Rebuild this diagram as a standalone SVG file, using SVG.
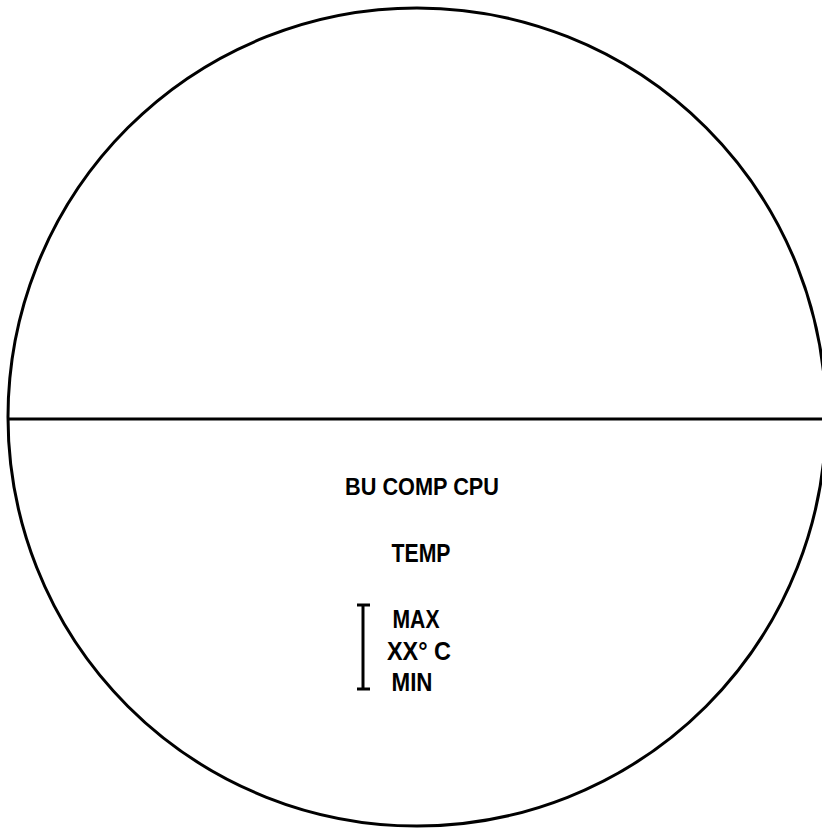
<svg xmlns="http://www.w3.org/2000/svg" width="822" height="829" viewBox="0 0 822 829">
<style>
.ln{fill:none;stroke:#000;stroke-width:3}
.t{font-family:"Liberation Sans",Arial,sans-serif;font-weight:bold;fill:#000;text-anchor:middle}
</style>
<rect width="822" height="829" fill="#fff"/>
<g id="dial">
<circle class="ln" cx="417" cy="417" r="409"/>
<line class="ln" x1="9" y1="419" x2="822" y2="419"/>
</g>
<g id="labels">
<text class="t" x="422" y="495" font-size="24" textLength="154" lengthAdjust="spacingAndGlyphs">BU COMP CPU</text>
<text class="t" x="421" y="562" font-size="26" textLength="59" lengthAdjust="spacingAndGlyphs">TEMP</text>
<text class="t" x="416" y="628" font-size="25" textLength="47" lengthAdjust="spacingAndGlyphs">MAX</text>
<text class="t" x="419" y="660" font-size="25" textLength="64" lengthAdjust="spacingAndGlyphs">XX° C</text>
<text class="t" x="412" y="691" font-size="25" textLength="41" lengthAdjust="spacingAndGlyphs">MIN</text>
</g>
<g id="scale">
<line class="ln" x1="363" y1="604" x2="363" y2="690"/>
<line class="ln" x1="357" y1="605" x2="370" y2="605"/>
<line class="ln" x1="357" y1="689" x2="370" y2="689"/>
</g>
</svg>
